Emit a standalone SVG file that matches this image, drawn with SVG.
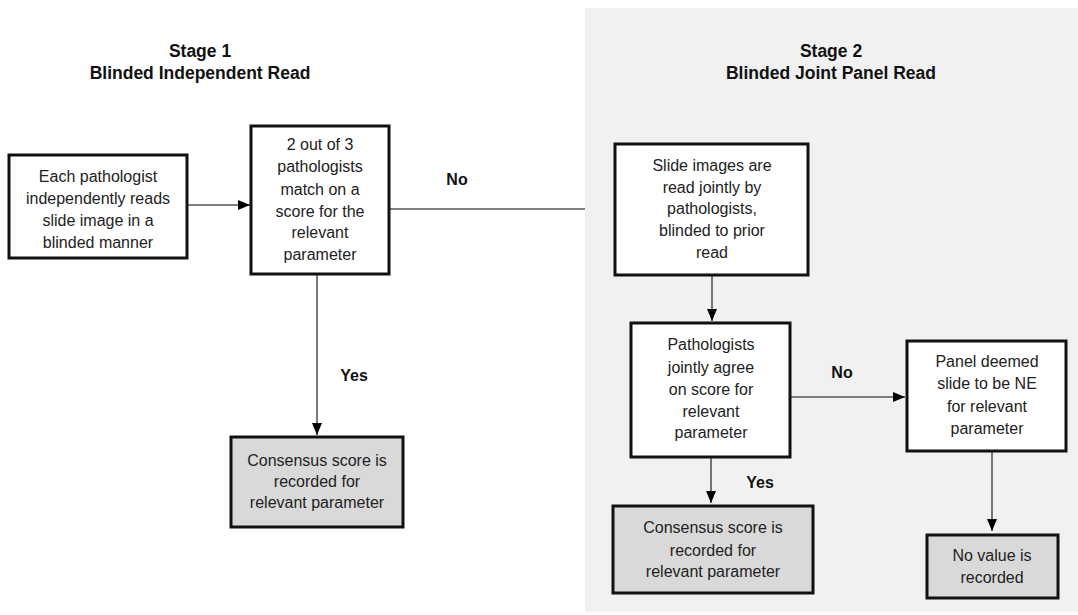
<svg xmlns="http://www.w3.org/2000/svg" width="1078" height="615" viewBox="0 0 1078 615">
<defs>
<style>
.box{fill:#fff;stroke:#111;stroke-width:3}
.res{fill:#d9d9d9;stroke:#111;stroke-width:3}
.t{font-family:"Liberation Sans",Arial,sans-serif;font-size:16px;fill:#222;text-anchor:middle}
.h{font-family:"Liberation Sans",Arial,sans-serif;font-size:17.5px;font-weight:bold;fill:#111;text-anchor:middle}
.lbl{font-family:"Liberation Sans",Arial,sans-serif;font-size:16px;font-weight:bold;fill:#111;text-anchor:middle}
.c{fill:none;stroke:#555;stroke-width:1.6}
</style>
<marker id="ah" viewBox="0 0 10 10" refX="10" refY="5" markerWidth="7" markerHeight="7" markerUnits="userSpaceOnUse" orient="auto">
<path d="M0,0 L10,5 L0,10 Z" fill="#000"/>
</marker>
<marker id="arr" viewBox="0 0 12 12" refX="12" refY="6" markerWidth="12" markerHeight="12" markerUnits="userSpaceOnUse" orient="auto">
<path d="M0,1 L12,6 L0,11 Z" fill="#000"/>
</marker>
</defs>
<rect x="585" y="8" width="493" height="604" fill="#f1f1f1"/>
<g id="title1">
<text class="h" x="200" y="57">Stage 1</text>
<text class="h" x="200" y="79">Blinded Independent Read</text>
</g>
<g id="title2">
<text class="h" x="831" y="57">Stage 2</text>
<text class="h" x="831" y="79">Blinded Joint Panel Read</text>
</g>
<g id="connectors">
<line class="c" x1="188" y1="205" x2="250" y2="205" marker-end="url(#arr)"/>
<line class="c" x1="390" y1="209" x2="585" y2="209"/>
<line class="c" x1="317" y1="275" x2="317" y2="435" marker-end="url(#arr)"/>
<line class="c" x1="712" y1="276" x2="712" y2="321" marker-end="url(#arr)"/>
<line class="c" x1="791" y1="397" x2="905" y2="397" marker-end="url(#arr)"/>
<line class="c" x1="711" y1="458" x2="711" y2="503" marker-end="url(#arr)"/>
<line class="c" x1="992" y1="452" x2="992" y2="531" marker-end="url(#arr)"/>
<text class="lbl" x="457" y="185">No</text>
<text class="lbl" x="354" y="381">Yes</text>
<text class="lbl" x="842" y="378">No</text>
<text class="lbl" x="760" y="488">Yes</text>
</g>
<g id="n1">
<rect class="box" x="9" y="155" width="178" height="103"/>
<text class="t" x="98" y="182">Each pathologist</text>
<text class="t" x="98" y="204">independently reads</text>
<text class="t" x="98" y="226">slide image in a</text>
<text class="t" x="98" y="248">blinded manner</text>
</g>
<g id="n2">
<rect class="box" x="251" y="126" width="138" height="148"/>
<text class="t" x="320" y="150">2 out of 3</text>
<text class="t" x="320" y="172">pathologists</text>
<text class="t" x="320" y="195">match on a</text>
<text class="t" x="320" y="217">score for the</text>
<text class="t" x="320" y="238">relevant</text>
<text class="t" x="320" y="260">parameter</text>
</g>
<g id="n3">
<rect class="res" x="231" y="437" width="172" height="90"/>
<text class="t" x="317" y="466">Consensus score is</text>
<text class="t" x="317" y="487">recorded for</text>
<text class="t" x="317" y="508">relevant parameter</text>
</g>
<g id="n4">
<rect class="box" x="615" y="144" width="193" height="131"/>
<text class="t" x="712" y="171">Slide images are</text>
<text class="t" x="712" y="193">read jointly by</text>
<text class="t" x="712" y="214">pathologists,</text>
<text class="t" x="712" y="236">blinded to prior</text>
<text class="t" x="712" y="258">read</text>
</g>
<g id="n5">
<rect class="box" x="631" y="323" width="159" height="134"/>
<text class="t" x="711" y="350">Pathologists</text>
<text class="t" x="711" y="373">jointly agree</text>
<text class="t" x="711" y="395">on score for</text>
<text class="t" x="711" y="417">relevant</text>
<text class="t" x="711" y="438">parameter</text>
</g>
<g id="n6">
<rect class="box" x="907" y="341" width="159" height="110"/>
<text class="t" x="987" y="367">Panel deemed</text>
<text class="t" x="987" y="389">slide to be NE</text>
<text class="t" x="987" y="412">for relevant</text>
<text class="t" x="987" y="434">parameter</text>
</g>
<g id="n7">
<rect class="res" x="613" y="506" width="200" height="87"/>
<text class="t" x="713" y="533">Consensus score is</text>
<text class="t" x="713" y="556">recorded for</text>
<text class="t" x="713" y="577">relevant parameter</text>
</g>
<g id="n8">
<rect class="res" x="927" y="535" width="131" height="63"/>
<text class="t" x="992" y="561">No value is</text>
<text class="t" x="992" y="583">recorded</text>
</g>
</svg>
